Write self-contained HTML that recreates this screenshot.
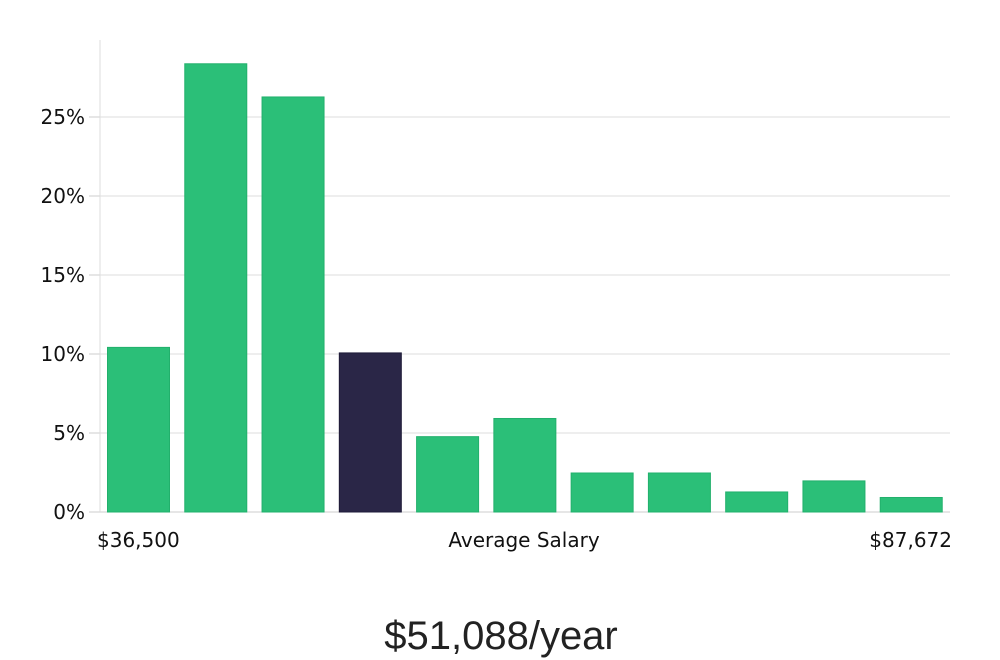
<!DOCTYPE html>
<html><head><meta charset="utf-8">
<style>
body{margin:0;background:#fff;width:1000px;height:660px;overflow:hidden;font-family:"DejaVu Sans","Liberation Sans",sans-serif;}
svg{display:block}
</style></head>
<body>
<svg id="chart" width="1000" height="660" xmlns="http://www.w3.org/2000/svg"></svg>
<script>
const categories=["b1","b2","b3","b4","b5","b6","b7","b8","b9","b10","b11"];
const values=[10.45,28.4,26.3,10.1,4.8,5.95,2.5,2.5,1.3,2.0,0.95];
const highlightIndex=3;
const yTicks=[0,5,10,15,20,25];
const xLabels=["$36,500","Average Salary","$87,672"];
const title="$51,088/year";

const NS="http://www.w3.org/2000/svg";
const svg=document.getElementById('chart');
const x0=100,x1=950,y0=512,pxPer=15.8;
const y=v=>y0-v*pxPer;
const slot=(x1-x0)/categories.length;
const xb=i=>x0+i*slot+7;
function el(t,a,txt){const e=document.createElementNS(NS,t);for(const k in a)e.setAttribute(k,a[k]);if(txt!==undefined)e.textContent=txt;svg.appendChild(e);return e;}

yTicks.forEach(t=>{
  const g=el('line',{x1:x0,x2:x1,y1:y(t),y2:y(t),stroke:t===0?'#ccc':'#ddd','stroke-width':1});
  
  
  const tk=el('line',{x1:89,x2:x0,y1:y(t),y2:y(t),stroke:'#ccc','stroke-width':1});
  
  
  const l=el('text',{x:85,y:y(t)+7,'text-anchor':'end','font-size':20,fill:'#111'},t+'%');
  
  
});
const ax=el('line',{x1:x0,x2:x0,y1:40,y2:y0,stroke:'#ddd','stroke-width':1});



values.forEach((v,i)=>{
  const hi=i===highlightIndex;
  const r=el('rect',{x:xb(i)+0.5,y:y(v)+0.5,width:62,height:v*pxPer-0.5,fill:hi?'#2a2647':'#2bbf78',stroke:hi?'#1e1b38':'#22b06c','stroke-width':1});
  
  
});

const lx=[97,524,952],la=['start','middle','end'];
xLabels.forEach((t,i)=>{
  const l=el('text',{x:lx[i],y:547,'text-anchor':la[i],'font-size':20,fill:'#111'},t);
  
  
});
const tt=el('text',{x:501,y:649,'text-anchor':'middle','font-size':40,fill:'#222','font-family':'"Liberation Sans",sans-serif'},title);


</script>
</body></html>
